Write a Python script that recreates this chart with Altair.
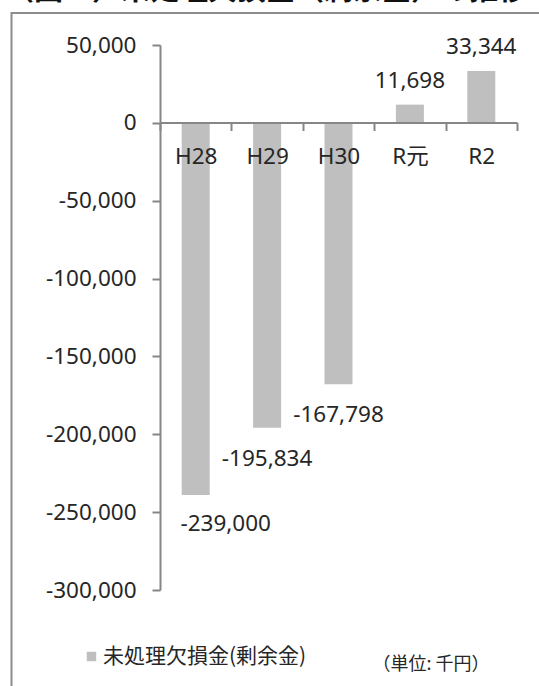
import altair as alt
import pandas as pd

# Yearly unprocessed deficit (negative) / surplus (positive), unit: thousand yen
years = ["H28", "H29", "H30", "R元", "R2"]
amounts = [-239000, -195834, -167798, 11698, 33344]
series_name = "未処理欠損金(剰余金)"
y_ticks = [50000, 0, -50000, -100000, -150000, -200000, -250000, -300000]

df = pd.DataFrame({"year": years, "amount": amounts, "series": series_name})

FONT = "Noto Sans, Noto Sans CJK JP"
JP_FONT = "Noto Sans CJK JP"
TEXT = "#262626"
AXIS = "#868686"
BAR = "#BFBFBF"

W, H = 357, 545

x_enc = alt.X(
    "year:N",
    sort=years,
    scale=alt.Scale(paddingInner=0, paddingOuter=0),
    axis=alt.Axis(
        title=None,
        orient="bottom",
        offset=-467.5,
        zindex=1,
        labelAngle=0,
        labelFont=FONT,
        labelFontSize=22.5,
        labelColor=TEXT,
        labelPadding=15,
        tickBand="extent",
        tickSize=8,
        tickColor=AXIS,
        tickWidth=2,
        domainColor=AXIS,
        domainWidth=2,
    ),
)
y_enc = alt.Y(
    "amount:Q",
    scale=alt.Scale(domain=[-300000, 50000], nice=False, zero=False),
    axis=alt.Axis(
        title=None,
        values=y_ticks,
        format=",.0f",
        grid=False,
        zindex=1,
        labelFont=FONT,
        labelFontSize=22.5,
        labelColor=TEXT,
        labelPadding=16,
        tickSize=8,
        tickColor=AXIS,
        tickWidth=2,
        domainColor=AXIS,
        domainWidth=2,
    ),
)

base = alt.Chart(df)

bars = base.mark_bar(size=28).encode(
    x=x_enc,
    y=y_enc,
    color=alt.Color(
        "series:N",
        scale=alt.Scale(range=[BAR]),
        legend=alt.Legend(
            title=None,
            orient="none",
            legendX=-79,
            legendY=601,
            symbolType="square",
            symbolSize=90,
            symbolStrokeWidth=0,
            labelFont=JP_FONT,
            labelFontSize=21,
            labelColor=TEXT,
            labelOffset=1,
            labelLimit=0,
        ),
    ),
)

label_style = dict(font=FONT, fontSize=22.5, color=TEXT, baseline="middle", align="center")

def value_labels(filter_expr, dx, dy):
    return base.transform_filter(filter_expr).mark_text(dx=dx, dy=dy, **label_style).encode(
        x=alt.X("year:N", sort=years),
        y="amount:Q",
        text=alt.Text("amount:Q", format=","),
    )

labels_first = value_labels("datum.year == 'H28'", 30, 29)
labels_neg = value_labels("datum.amount < 0 && datum.year != 'H28'", 0, 31)
labels_pos = value_labels("datum.amount > 0", 0, -24)

# Chart heading, sitting above the framed area
heading = alt.Chart(pd.DataFrame({"t": ["（図２）未処理欠損金（剰余金）の推移"]})).mark_text(
    font=JP_FONT, fontSize=29, fontWeight="bold", color="#111111", align="center", baseline="alphabetic"
).encode(x=alt.value(106), y=alt.value(-45), text="t:N")

# Unit note at the bottom right
unit = alt.Chart(pd.DataFrame({"t": ["（単位: 千円）"]})).mark_text(
    font=JP_FONT, fontSize=18, color=TEXT, align="center", baseline="middle"
).encode(x=alt.value(271), y=alt.value(620), text="t:N")

# Grey frame around the chart area
frame = alt.Chart(pd.DataFrame({"a": [0]})).mark_rect(
    fill=None, stroke="#8C8C8C", strokeWidth=2
).encode(x=alt.value(-148.5), x2=alt.value(400), y=alt.value(-32), y2=alt.value(660))

chart = (
    alt.layer(frame, bars, labels_first, labels_neg, labels_pos, heading, unit)
    .properties(
        width=W,
        height=H,
        autosize=alt.AutoSizeParams(type="none"),
        padding={"left": 160, "top": 45, "right": 22, "bottom": 96},
        background="white",
    )
    .configure(
        locale={
            "number": {
                "decimal": ".",
                "thousands": ",",
                "grouping": [3],
                "currency": ["$", ""],
                "minus": "-",
            }
        },
        view={"stroke": "transparent"},
    )
)

chart.save("out.html", embed_options={"renderer": "svg", "actions": False})
